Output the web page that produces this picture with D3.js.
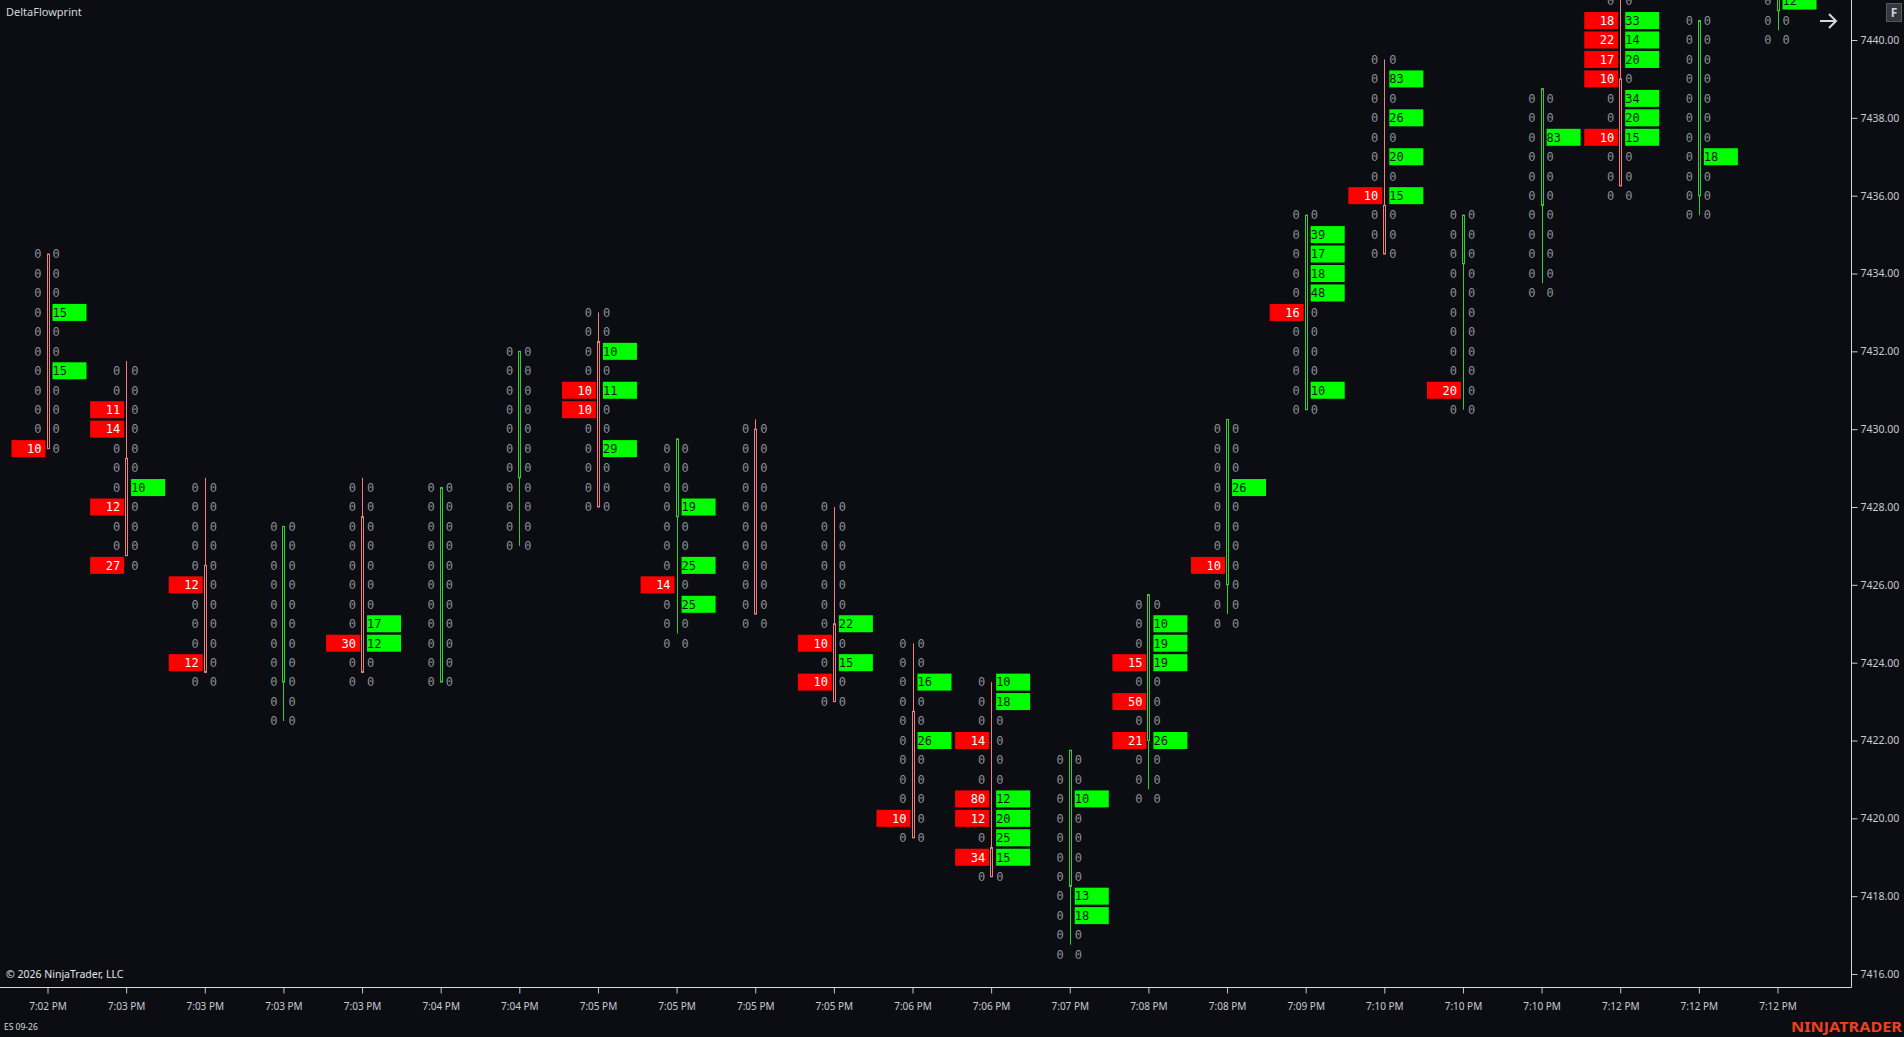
<!DOCTYPE html>
<html>
<head>
<meta charset="utf-8">
<title>DeltaFlowprint</title>
<script src="https://d3js.org/d3.v7.min.js"></script>
<style>
  html, body { margin: 0; padding: 0; background: #0c0d12; overflow: hidden; }
  svg { display: block; }
</style>
</head>
<body>
<svg id="chart" width="1904" height="1037"></svg>
<script>
// one label per bar on the time axis
var timeLabels = ["7:02 PM", "7:03 PM", "7:03 PM", "7:03 PM", "7:03 PM", "7:04 PM", "7:04 PM",
  "7:05 PM", "7:05 PM", "7:05 PM", "7:05 PM", "7:06 PM", "7:06 PM", "7:07 PM", "7:08 PM",
  "7:08 PM", "7:09 PM", "7:10 PM", "7:10 PM", "7:10 PM", "7:12 PM", "7:12 PM", "7:12 PM"];

// OHLC of each bar
var opens  = [7434.5, 7429.25, 7426.5, 7423.5, 7427.75, 7423.5, 7428.75, 7432.25, 7427.75, 7430, 7425, 7422.75,
  7419.25, 7418.25, 7422, 7426, 7430.5, 7435.75, 7434.25, 7435.75, 7439, 7436, 7440.75];
var highs  = [7434.5, 7431.75, 7428.75, 7427.5, 7428.75, 7428.5, 7432, 7433, 7429.75, 7430.25, 7428, 7424.5,
  7423.5, 7421.75, 7425.75, 7430.25, 7435.5, 7439.5, 7435.5, 7438.75, 7441.25, 7440.5, 7442];
var lows   = [7429.5, 7426.75, 7423.75, 7422.5, 7423.75, 7423.5, 7427, 7428, 7424.75, 7425.25, 7423, 7419.5,
  7418.5, 7416.75, 7420.75, 7425.25, 7430.5, 7434.5, 7430.5, 7433.75, 7436.25, 7435.5, 7440.25];
var closes = [7429.5, 7426.75, 7423.75, 7427.5, 7423.75, 7428.5, 7432, 7428, 7429.75, 7425.25, 7423, 7419.5,
  7418.5, 7421.75, 7425.75, 7430.25, 7435.5, 7434.5, 7435.5, 7438.75, 7436.25, 7440.5, 7442];

// price of the top row of each footprint column (rows go down in 0.5 steps)
var rowTops = [7434.5, 7431.5, 7428.5, 7427.5, 7428.5, 7428.5, 7432, 7433, 7429.5, 7430, 7428, 7424.5,
  7423.5, 7421.5, 7425.5, 7430, 7435.5, 7439.5, 7435.5, 7438.5, 7441, 7440.5, 7441];
var rowStep = 0.5;

// bid (left) volumes, top row first
var bidVolumes = [
  [0, 0, 0, 0, 0, 0, 0, 0, 0, 0, 10],
  [0, 0, 11, 14, 0, 0, 0, 12, 0, 0, 27],
  [0, 0, 0, 0, 0, 12, 0, 0, 0, 12, 0],
  [0, 0, 0, 0, 0, 0, 0, 0, 0, 0, 0],
  [0, 0, 0, 0, 0, 0, 0, 0, 30, 0, 0],
  [0, 0, 0, 0, 0, 0, 0, 0, 0, 0, 0],
  [0, 0, 0, 0, 0, 0, 0, 0, 0, 0, 0],
  [0, 0, 0, 0, 10, 10, 0, 0, 0, 0, 0],
  [0, 0, 0, 0, 0, 0, 0, 14, 0, 0, 0],
  [0, 0, 0, 0, 0, 0, 0, 0, 0, 0, 0],
  [0, 0, 0, 0, 0, 0, 0, 10, 0, 10, 0],
  [0, 0, 0, 0, 0, 0, 0, 0, 0, 10, 0],
  [0, 0, 0, 14, 0, 0, 80, 12, 0, 34, 0],
  [0, 0, 0, 0, 0, 0, 0, 0, 0, 0, 0],
  [0, 0, 0, 15, 0, 50, 0, 21, 0, 0, 0],
  [0, 0, 0, 0, 0, 0, 0, 10, 0, 0, 0],
  [0, 0, 0, 0, 0, 16, 0, 0, 0, 0, 0],
  [0, 0, 0, 0, 0, 0, 0, 10, 0, 0, 0],
  [0, 0, 0, 0, 0, 0, 0, 0, 0, 20, 0],
  [0, 0, 0, 0, 0, 0, 0, 0, 0, 0, 0],
  [0, 18, 22, 17, 10, 0, 0, 10, 0, 0, 0],
  [0, 0, 0, 0, 0, 0, 0, 0, 0, 0, 0],
  [0, 0, 0]
];

// ask (right) volumes, top row first
var askVolumes = [
  [0, 0, 0, 15, 0, 0, 15, 0, 0, 0, 0],
  [0, 0, 0, 0, 0, 0, 10, 0, 0, 0, 0],
  [0, 0, 0, 0, 0, 0, 0, 0, 0, 0, 0],
  [0, 0, 0, 0, 0, 0, 0, 0, 0, 0, 0],
  [0, 0, 0, 0, 0, 0, 0, 17, 12, 0, 0],
  [0, 0, 0, 0, 0, 0, 0, 0, 0, 0, 0],
  [0, 0, 0, 0, 0, 0, 0, 0, 0, 0, 0],
  [0, 0, 10, 0, 11, 0, 0, 29, 0, 0, 0],
  [0, 0, 0, 19, 0, 0, 25, 0, 25, 0, 0],
  [0, 0, 0, 0, 0, 0, 0, 0, 0, 0, 0],
  [0, 0, 0, 0, 0, 0, 22, 0, 15, 0, 0],
  [0, 0, 16, 0, 0, 26, 0, 0, 0, 0, 0],
  [10, 18, 0, 0, 0, 0, 12, 20, 25, 15, 0],
  [0, 0, 10, 0, 0, 0, 0, 13, 18, 0, 0],
  [0, 10, 19, 19, 0, 0, 0, 26, 0, 0, 0],
  [0, 0, 0, 26, 0, 0, 0, 0, 0, 0, 0],
  [0, 39, 17, 18, 48, 0, 0, 0, 0, 10, 0],
  [0, 83, 0, 26, 0, 20, 0, 15, 0, 0, 0],
  [0, 0, 0, 0, 0, 0, 0, 0, 0, 0, 0],
  [0, 0, 83, 0, 0, 0, 0, 0, 0, 0, 0],
  [0, 33, 14, 20, 0, 34, 20, 15, 0, 0, 0],
  [0, 0, 0, 0, 0, 0, 0, 18, 0, 0, 0],
  [12, 0, 0]
];

var priceTicks = [7416, 7418, 7420, 7422, 7424, 7426, 7428, 7430, 7432, 7434, 7436, 7438, 7440];

window.onload = function()
{
  drawChart();
}

// flatten bars into one list of footprint cells
function buildRows()
{
  var rows = [];
  timeLabels.forEach(function(t, i) {
    for (var r = 0; r < bidVolumes[i].length; r++) {
      rows.push({
        bar: i,
        price: rowTops[i] - r * rowStep,
        bid: bidVolumes[i][r],
        ask: askVolumes[i][r]
      });
    }
  });
  return rows;
}

function drawChart()
{
  var svg = d3.select("#chart");
  var plotRight = 1851, plotBottom = 987;
  var monoFont = "'DejaVu Sans Mono', 'Liberation Mono', monospace";
  var uiFont = "'Noto Sans', 'Open Sans', sans-serif";

  var x = d3.scalePoint()
    .domain(d3.range(timeLabels.length))
    .range([47.5, 1777.5]);

  var y = d3.scaleLinear()
    .domain([7416, 7440])
    .range([974, 40]);

  svg.append("defs").append("clipPath").attr("id", "plotClip")
    .append("rect").attr("x", 0).attr("y", 0).attr("width", plotRight).attr("height", plotBottom);

  var plot = svg.append("g").attr("clip-path", "url(#plotClip)");

  // candles: hollow body + 1px wick
  var bars = d3.range(timeLabels.length);
  var candle = plot.selectAll(".candle").data(bars).enter().append("g").attr("class", "candle");

  function candleColor(i) { return closes[i] >= opens[i] ? "#32cd32" : "#f08080"; }

  candle.append("line")
    .attr("x1", function(i) { return Math.round(x(i)) + 0.5; })
    .attr("x2", function(i) { return Math.round(x(i)) + 0.5; })
    .attr("y1", function(i) { return y(highs[i]); })
    .attr("y2", function(i) { return y(lows[i]); })
    .attr("stroke", candleColor)
    .attr("stroke-width", 1);

  candle.append("rect")
    .attr("x", function(i) { return Math.round(x(i)) - 0.5; })
    .attr("width", 2)
    .attr("y", function(i) { return y(Math.max(opens[i], closes[i])); })
    .attr("height", function(i) { return Math.max(1, y(Math.min(opens[i], closes[i])) - y(Math.max(opens[i], closes[i]))); })
    .attr("fill", "#0c0d12")
    .attr("stroke", candleColor)
    .attr("stroke-width", 1);

  // footprint cells
  var rows = buildRows();
  var cell = plot.selectAll(".cell").data(rows).enter().append("g").attr("class", "cell");

  cell.filter(function(d) { return d.bid > 0; }).append("rect")
    .attr("x", function(d) { return x(d.bar) - 36; })
    .attr("y", function(d) { return y(d.price) - 8.5; })
    .attr("width", 34)
    .attr("height", 17)
    .attr("fill", "#ff0000");

  cell.filter(function(d) { return d.ask > 0; }).append("rect")
    .attr("x", function(d) { return x(d.bar) + 5; })
    .attr("y", function(d) { return y(d.price) - 8.5; })
    .attr("width", 34)
    .attr("height", 17)
    .attr("fill", "#00ff00");

  cell.append("text")
    .attr("x", function(d) { return x(d.bar) - 6; })
    .attr("y", function(d) { return y(d.price); })
    .attr("dy", "0.36em")
    .attr("text-anchor", "end")
    .attr("font-family", monoFont)
    .attr("font-size", 12)
    .attr("fill", function(d) { return d.bid > 0 ? "#ffffff" : "#8a8f98"; })
    .text(function(d) { return d.bid; });

  cell.append("text")
    .attr("x", function(d) { return x(d.bar) + 5; })
    .attr("y", function(d) { return y(d.price); })
    .attr("dy", "0.36em")
    .attr("text-anchor", "start")
    .attr("font-family", monoFont)
    .attr("font-size", 12)
    .attr("fill", function(d) { return d.ask > 0 ? "#0a1a0a" : "#8a8f98"; })
    .text(function(d) { return d.ask; });

  // price axis on the right
  var yAxis = svg.append("g")
    .attr("transform", "translate(" + (plotRight + 0.5) + ",0)")
    .call(d3.axisRight(y).tickValues(priceTicks).tickSize(6).tickPadding(3).tickFormat(d3.format(".2f")));
  yAxis.select(".domain").remove();
  yAxis.selectAll("line").attr("stroke", "#c8c8c8");
  yAxis.selectAll("text").attr("fill", "#c8ccd2").attr("font-family", uiFont).attr("font-size", 10.5);

  // time axis at the bottom
  var xAxis = svg.append("g")
    .attr("transform", "translate(0," + (plotBottom + 0.5) + ")")
    .call(d3.axisBottom(x).tickSize(6).tickPadding(9).tickFormat(function(i) { return timeLabels[i]; }));
  xAxis.select(".domain").remove();
  xAxis.selectAll("line").attr("stroke", "#c8c8c8");
  xAxis.selectAll("text").attr("fill", "#c8ccd2").attr("font-family", uiFont).attr("font-size", 10);

  // frame lines
  svg.append("line").attr("x1", plotRight + 0.5).attr("x2", plotRight + 0.5)
    .attr("y1", 0).attr("y2", plotBottom + 0.5).attr("stroke", "#d8d8d8");
  svg.append("line").attr("x1", 0).attr("x2", plotRight + 0.5)
    .attr("y1", plotBottom + 0.5).attr("y2", plotBottom + 0.5).attr("stroke", "#d8d8d8");

  // labels around the chart
  svg.append("text").attr("x", 6).attr("y", 12).attr("dy", "0.35em")
    .attr("font-family", uiFont).attr("font-size", 11).attr("fill", "#d4d8de")
    .text("DeltaFlowprint");

  svg.append("text").attr("x", 6).attr("y", 974).attr("dy", "0.35em")
    .attr("font-family", uiFont).attr("font-size", 10.5).attr("fill", "#e6e6e6")
    .text("© 2026 NinjaTrader, LLC");

  svg.append("text").attr("x", 4).attr("y", 1027).attr("dy", "0.35em")
    .attr("font-family", uiFont).attr("font-size", 8.5).attr("fill", "#d8d8d8")
    .text("ES 09-26");

  svg.append("text").attr("x", 1902).attr("y", 1027).attr("dy", "0.35em")
    .attr("text-anchor", "end")
    .attr("font-family", uiFont).attr("font-size", 15).attr("font-weight", "bold")
    .attr("fill", "#f0401c")
    .attr("textLength", 111).attr("lengthAdjust", "spacingAndGlyphs")
    .text("NINJATRADER");

  // "F" button and scroll arrow in the top right corner
  svg.append("rect").attr("x", 1886.5).attr("y", 3.5).attr("width", 15).attr("height", 18)
    .attr("fill", "#34373c").attr("stroke", "#55595f");
  svg.append("text").attr("x", 1894).attr("y", 12.5).attr("dy", "0.36em")
    .attr("text-anchor", "middle")
    .attr("font-family", uiFont).attr("font-size", 12).attr("font-weight", "bold").attr("fill", "#d0d0d0")
    .text("F");
  svg.append("path")
    .attr("d", "M1820,21 L1836,21 M1829,14 L1836,21 L1829,28")
    .attr("fill", "none").attr("stroke", "#d8d8d8").attr("stroke-width", 2);
}
</script>
</body>
</html>
